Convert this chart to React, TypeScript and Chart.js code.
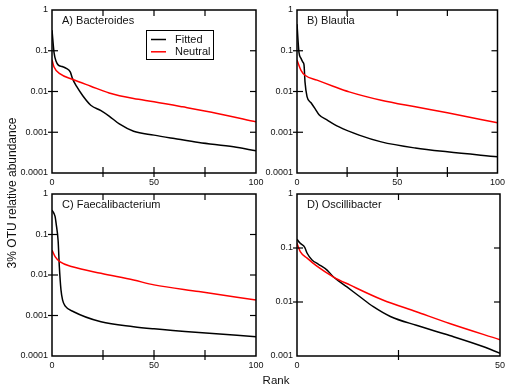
import React, { useEffect, useRef } from "react";
import { Chart, registerables } from "chart.js";

Chart.register(...registerables);

const FONT = "'Liberation Sans', Arial, Helvetica, sans-serif";
const W = 509;
const H = 387;

// ---------- data ----------
// A) Bacteroides
const aFittedRank = [0, 1, 2, 3, 5, 7, 9, 10, 12, 15, 19, 24, 28, 33, 40, 50, 60, 72, 89, 100];
const aFittedVal = [0.32, 0.09, 0.055, 0.045, 0.041, 0.037, 0.03, 0.021, 0.0135, 0.008, 0.0046, 0.0034, 0.0025, 0.0016, 0.00106, 0.00085, 0.0007, 0.00056, 0.00044, 0.00035];
const aNeutralRank = [0, 1, 4, 10, 19, 28, 40, 50, 64, 81, 100];
const aNeutralVal = [0.06, 0.04, 0.027, 0.02, 0.0135, 0.0092, 0.0067, 0.0056, 0.0042, 0.0029, 0.0018];

// B) Blautia
const bFittedRank = [0, 1, 2, 3, 3.5, 4, 5, 7, 9, 11, 15, 21, 31, 42, 59, 75, 100];
const bFittedVal = [0.45, 0.09, 0.065, 0.052, 0.045, 0.017, 0.0075, 0.0053, 0.0038, 0.0027, 0.002, 0.00135, 0.00085, 0.00058, 0.00041, 0.00033, 0.00025];
const bNeutralRank = [0, 2, 4, 10, 18, 26, 42, 59, 75, 100];
const bNeutralVal = [0.059, 0.033, 0.025, 0.019, 0.0135, 0.0098, 0.0061, 0.0042, 0.003, 0.0017];

// C) Faecalibacterium
const cFittedRank = [0, 1.5, 2, 3, 3.6, 4.4, 5.2, 6.5, 10.6, 24, 40, 50, 72, 100];
const cFittedVal = [0.4, 0.28, 0.19, 0.07, 0.016, 0.0043, 0.0024, 0.0017, 0.00124, 0.0007, 0.00053, 0.00047, 0.00038, 0.0003];
const cNeutralRank = [0, 1.6, 4, 10, 24, 40, 50, 72, 100];
const cNeutralVal = [0.041, 0.028, 0.021, 0.016, 0.011, 0.0075, 0.0057, 0.0039, 0.0024];

// D) Oscillibacter
const dFittedRank = [0, 0.8, 1.9, 2.5, 3.7, 5.3, 7.4, 9, 12.3, 15.5, 18.8, 23, 29.4, 37.6, 45.8, 50];
const dFittedVal = [0.145, 0.122, 0.103, 0.08, 0.06, 0.05, 0.039, 0.029, 0.019, 0.0125, 0.0082, 0.0054, 0.0037, 0.0024, 0.0015, 0.00112];
const dNeutralRank = [0, 0.8, 2.5, 4.9, 9, 13, 21, 29.4, 37.6, 50];
const dNeutralVal = [0.122, 0.086, 0.065, 0.046, 0.029, 0.0207, 0.011, 0.0066, 0.004, 0.002];

const yTicksFull = [1, 0.1, 0.01, 0.001, 0.0001];
const yTicksD = [1, 0.1, 0.01, 0.001];
const xTickStep = 25;
const xLabelStep = 50;

const panelTitles = ["A) Bacteroides", "B) Blautia", "C) Faecalibacterium", "D) Oscillibacter"];
const legendLabels = ["Fitted", "Neutral"];
const yAxisTitle = "3% OTU relative abundance";
const xAxisTitle = "Rank";

const zip = (xs: number[], ys: number[]) => xs.map((x, i) => ({ x, y: ys[i] }));

type Area = { left: number; top: number; right: number; bottom: number };
type Panel = {
  title: string;
  fitted: { x: number; y: number }[];
  neutral: { x: number; y: number }[];
  xMax: number;
  yMin: number;
  yTicks: number[];
  area: Area;
  legend: boolean;
  figureText: boolean;
};

const panels: Panel[] = [
  {
    title: panelTitles[0],
    fitted: zip(aFittedRank, aFittedVal),
    neutral: zip(aNeutralRank, aNeutralVal),
    xMax: 100,
    yMin: 0.0001,
    yTicks: yTicksFull,
    area: { left: 52, top: 10, right: 256, bottom: 173 },
    legend: true,
    figureText: true,
  },
  {
    title: panelTitles[1],
    fitted: zip(bFittedRank, bFittedVal),
    neutral: zip(bNeutralRank, bNeutralVal),
    xMax: 100,
    yMin: 0.0001,
    yTicks: yTicksFull,
    area: { left: 297, top: 10, right: 501, bottom: 173 },
    legend: false,
    figureText: false,
  },
  {
    title: panelTitles[2],
    fitted: zip(cFittedRank, cFittedVal),
    neutral: zip(cNeutralRank, cNeutralVal),
    xMax: 100,
    yMin: 0.0001,
    yTicks: yTicksFull,
    area: { left: 52, top: 194, right: 256, bottom: 356 },
    legend: false,
    figureText: false,
  },
  {
    title: panelTitles[3],
    fitted: zip(dFittedRank, dFittedVal),
    neutral: zip(dNeutralRank, dNeutralVal),
    xMax: 50,
    yMin: 0.001,
    yTicks: yTicksD,
    area: { left: 297, top: 194, right: 501, bottom: 356 },
    legend: false,
    figureText: false,
  },
];

const Y_AXIS_W = 45;
const X_AXIS_H = 16;

function PanelChart({ panel }: { panel: Panel }) {
  const ref = useRef<HTMLCanvasElement | null>(null);
  useEffect(() => {
    if (!ref.current) return;
    const a = panel.area;
    const decor = {
      id: "decor",
      afterDatasetsDraw(chart: any) {
        const { ctx, chartArea: ca, scales } = chart;
        const line = (x1: number, y1: number, x2: number, y2: number) => {
          ctx.beginPath();
          ctx.moveTo(x1, y1);
          ctx.lineTo(x2, y2);
          ctx.stroke();
        };
        ctx.save();
        ctx.strokeStyle = "#000";
        ctx.lineWidth = 1.2;
        const TL = 6;
        const OUT = 4;
        for (const t of scales.x.ticks) {
          const px = scales.x.getPixelForValue(t.value);
          if (px <= ca.left + 1 || px >= ca.right - 1) continue;
          line(px, ca.bottom + OUT, px, ca.bottom - TL);
          line(px, ca.top, px, ca.top + TL);
        }
        for (const t of scales.y.ticks) {
          const py = scales.y.getPixelForValue(t.value);
          if (py <= ca.top + 1 || py >= ca.bottom - 1) continue;
          line(ca.left - OUT, py, ca.left + TL, py);
          line(ca.right, py, ca.right - TL, py);
        }
        ctx.lineWidth = 1.5;
        ctx.strokeRect(ca.left, ca.top, ca.right - ca.left, ca.bottom - ca.top);

        // panel title
        ctx.fillStyle = "#111";
        ctx.font = `11px ${FONT}`;
        ctx.textAlign = "left";
        ctx.textBaseline = "middle";
        ctx.fillText(panel.title, ca.left + 10, ca.top + 11);

        if (panel.legend) {
          const lx = ca.left + 94;
          const ly = ca.top + 20;
          ctx.lineWidth = 1;
          ctx.strokeStyle = "#000";
          ctx.strokeRect(lx + 0.5, ly + 0.5, 67, 29);
          const colors = ["#000000", "#ff0000"];
          legendLabels.forEach((lab, i) => {
            const yy = ly + 9.5 + i * 12.3;
            ctx.strokeStyle = colors[i];
            ctx.lineWidth = 1.5;
            line(lx + 5, yy, lx + 20, yy);
            ctx.fillStyle = "#111";
            ctx.fillText(lab, lx + 29, yy + 0.5);
          });
        }

        if (panel.figureText) {
          ctx.fillStyle = "#111";
          ctx.font = `11.5px ${FONT}`;
          ctx.textAlign = "center";
          ctx.textBaseline = "middle";
          ctx.fillText(xAxisTitle, 276, 381);
          ctx.save();
          ctx.translate(12.5, 193);
          ctx.rotate(-Math.PI / 2);
          ctx.font = `12px ${FONT}`;
          ctx.fillText(yAxisTitle, 0, 0);
          ctx.restore();
        }
        ctx.restore();
      },
    };

    const chart = new Chart(ref.current, {
      type: "line",
      data: {
        datasets: [
          {
            label: legendLabels[1],
            data: panel.neutral,
            borderColor: "#ff0000",
            borderWidth: 1.5,
            pointRadius: 0,
            fill: false,
            cubicInterpolationMode: "monotone",
          },
          {
            label: legendLabels[0],
            data: panel.fitted,
            borderColor: "#000000",
            borderWidth: 1.5,
            pointRadius: 0,
            fill: false,
            cubicInterpolationMode: "monotone",
          },
        ],
      },
      options: {
        responsive: false,
        animation: false,
        devicePixelRatio: 1,
        events: [],
        layout: {
          padding: {
            left: a.left - Y_AXIS_W,
            top: a.top,
            right: W - a.right,
            bottom: H - a.bottom - X_AXIS_H,
          },
        },
        plugins: { legend: { display: false }, tooltip: { enabled: false }, title: { display: false } },
        scales: {
          x: {
            type: "linear",
            min: 0,
            max: panel.xMax,
            grid: { display: false, drawTicks: false },
            border: { display: false },
            afterFit: (s: any) => {
              s.height = X_AXIS_H;
            },
            ticks: {
              stepSize: xTickStep,
              autoSkip: false,
              maxRotation: 0,
              padding: 4,
              color: "#111",
              font: { family: FONT, size: 9 },
              callback: (v: any) => (Number(v) % xLabelStep === 0 ? String(v) : ""),
            },
          },
          y: {
            type: "logarithmic",
            min: panel.yMin,
            max: 1,
            grid: { display: false, drawTicks: false },
            border: { display: false },
            afterFit: (s: any) => {
              s.width = Y_AXIS_W;
            },
            afterBuildTicks: (s: any) => {
              s.ticks = panel.yTicks.map((v) => ({ value: v }));
            },
            ticks: {
              autoSkip: false,
              padding: 4,
              color: "#111",
              font: { family: FONT, size: 9 },
              callback: (v: any) => String(Number(v)),
            },
          },
        },
      },
      plugins: [decor],
    } as any);
    return () => chart.destroy();
  }, [panel]);
  return (
    <canvas
      ref={ref}
      width={W}
      height={H}
      style={{ position: "absolute", left: 0, top: 0, width: W, height: H }}
    />
  );
}

export default function App() {
  return (
    <div style={{ position: "absolute", left: 0, top: 0, width: W, height: H, background: "#fff" }}>
      {panels.map((p, i) => (
        <PanelChart key={i} panel={p} />
      ))}
    </div>
  );
}
